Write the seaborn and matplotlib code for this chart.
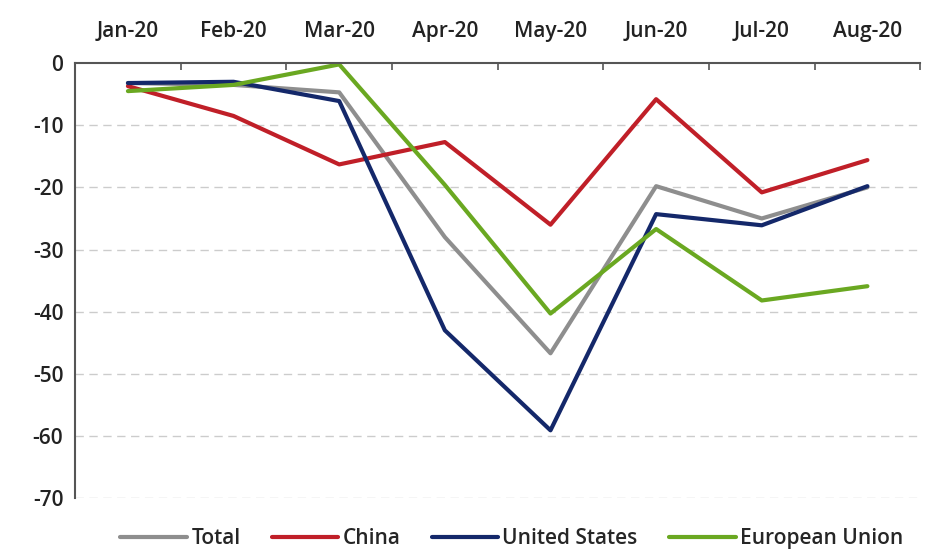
import matplotlib
matplotlib.use("Agg")
import matplotlib.pyplot as plt
import pandas as pd
import seaborn as sns
import numpy as np

months = ["Jan-20", "Feb-20", "Mar-20", "Apr-20", "May-20", "Jun-20", "Jul-20", "Aug-20"]
total = [-3.2, -3.5, -4.7, -28.0, -46.7, -19.8, -25.0, -20.0]
china = [-3.7, -8.5, -16.3, -12.7, -26.0, -5.8, -20.8, -15.6]
united_states = [-3.2, -3.0, -6.1, -43.0, -59.1, -24.3, -26.1, -19.8]
european_union = [-4.5, -3.5, -0.2, -19.6, -40.3, -26.7, -38.2, -35.9]

series = {
    "Total": total,
    "China": china,
    "United States": united_states,
    "European Union": european_union,
}
colores = {
    "Total": "#8e8e8e",
    "China": "#c01f28",
    "United States": "#14286a",
    "European Union": "#6aa821",
}

filas = []
for nombre, valores in series.items():
    for i, v in enumerate(valores):
        filas.append({"pos": i, "mes": months[i], "serie": nombre, "valor": v})
df = pd.DataFrame(filas)

sns.set_style("white")
plt.rcParams["font.family"] = ["Open Sans", "DejaVu Sans"]
plt.rcParams["font.weight"] = "semibold"
plt.rcParams["axes.unicode_minus"] = False

fig = plt.figure(figsize=(9.39, 5.54), dpi=100)
ax = fig.add_axes([0.08, 0.101, 0.90, 0.785])

sns.lineplot(data=df, x="pos", y="valor", hue="serie", palette=colores,
             linewidth=3, ax=ax, legend=False)

ax.set_xlim(-0.5, 7.5)
ax.set_ylim(-70, 0)
ax.set_yticks(range(-70, 1, 10))
ax.set_yticklabels([str(v) for v in range(-70, 1, 10)], fontsize=15, fontweight="semibold")
ax.tick_params(axis="y", length=5, width=1.2, colors="#222222", direction="out")
for y in range(-70, 0, 10):
    ax.axhline(y, color="#cccccc", linestyle=(0, (6, 4)), linewidth=1, zorder=0)

ax.xaxis.tick_top()
ax.set_xticks(range(len(months)))
ax.set_xticklabels(months, fontsize=15, color="#222222", fontweight="semibold")
ax.set_xticks(np.arange(0.5, 8, 1), minor=True)
ax.tick_params(axis="x", which="major", length=0, pad=15)
ax.tick_params(axis="x", which="minor", length=5, width=1.2, direction="in", color="#555555")
ax.set_xlabel("")
ax.set_ylabel("")

for lado in ["right", "bottom"]:
    ax.spines[lado].set_visible(False)
ax.spines["top"].set_color("#555555")
ax.spines["top"].set_linewidth(1.5)
ax.spines["left"].set_color("#555555")
ax.spines["left"].set_linewidth(1.5)

handles = [plt.Line2D([0], [0], color=colores[n], linewidth=3) for n in series]
fig.legend(handles, list(series.keys()), loc="lower center", bbox_to_anchor=(0.545, -0.025),
           ncol=4, frameon=False, prop={"size": 15, "weight": "semibold"},
           handlelength=3.2, columnspacing=1.5, handletextpad=0.2)

fig.savefig("out.png", dpi=100)
